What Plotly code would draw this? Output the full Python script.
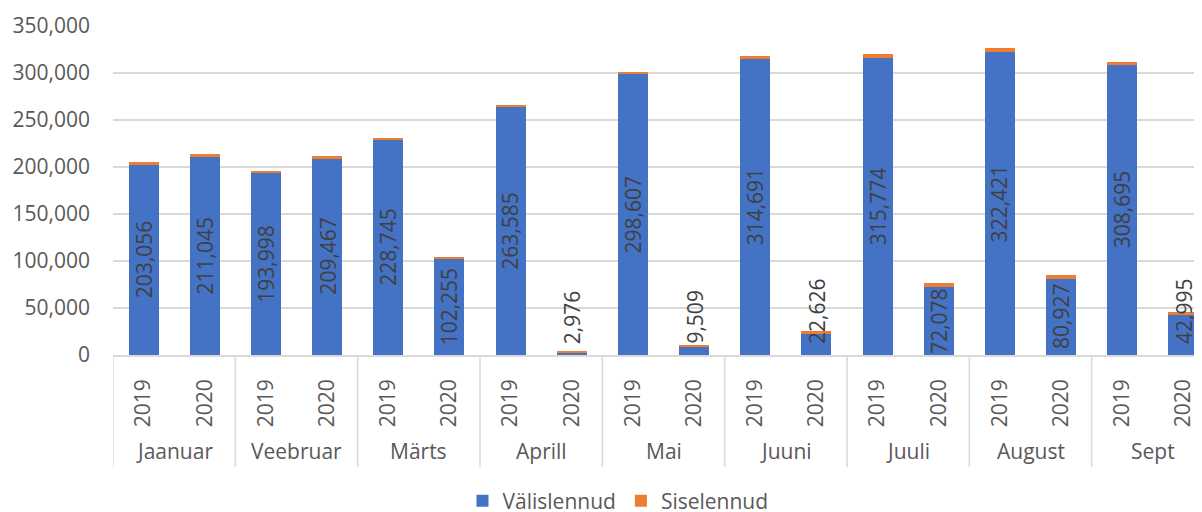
import plotly.graph_objects as go

months = ["Jaanuar", "Veebruar", "Märts", "Aprill", "Mai", "Juuni", "Juuli", "August", "Sept"]
years = ["2019", "2020"]
valislennud = [203056, 211045, 193998, 209467, 228745, 102255, 263585, 2976, 298607, 9509,
               314691, 22626, 315774, 72078, 322421, 80927, 308695, 42995]
siselennud = [2000, 2500, 2000, 2000, 2000, 1500, 2500, 300, 2500, 1000,
              3000, 3000, 4000, 4000, 4000, 4000, 2500, 2500]
y_ticks = [0, 50000, 100000, 150000, 200000, 250000, 300000, 350000]

FONT = "Open Sans"
GRAY = "#595959"
DARK = "#404040"
OFF = 8                      # page body margin
PAGE_W, PAGE_H = 1202, 512
W, H = PAGE_W - OFF, PAGE_H - OFF
PLOT_L, PLOT_T, PLOT_B = 113, 25.5, 355.5   # page coordinates of the plot area
ML = PLOT_L - OFF
MT = PLOT_T - OFF
MB = H - (PLOT_B - OFF)
plot_h = PLOT_B - PLOT_T

n = len(valislennud)
x = list(range(n))
year_labels = [years[i % 2] for i in range(n)]
slot_px = 1101 / n
x_max = -0.5 + (PAGE_W - PLOT_L) / slot_px

fig = go.Figure()
fig.add_trace(go.Bar(x=x, y=valislennud, name="Välislennud", marker_color="#4472C4",
                     width=0.49, marker_line_width=0))
fig.add_trace(go.Bar(x=x, y=siselennud, name="Siselennud", marker_color="#ED7D31",
                     width=0.49, marker_line_width=0))

annotations = []
for i, v in enumerate(valislennud):
    if v >= 50000:
        annotations.append(dict(x=i, y=v / 2, xref="x", yref="y", text=f"{v:,}",
                                textangle=-90, showarrow=False, yanchor="middle",
                                font=dict(family=FONT, size=21, color=DARK)))
    else:
        annotations.append(dict(x=i, y=0, xref="x", yref="y", text=f"{v:,}",
                                textangle=-90, showarrow=False, yanchor="bottom", yshift=9,
                                font=dict(family=FONT, size=21, color=DARK)))

month_y = (PLOT_B - 452) / plot_h
for k, m in enumerate(months):
    annotations.append(dict(x=2 * k + 0.5, y=month_y, xref="x", yref="paper", text=m,
                            showarrow=False, yanchor="middle", xanchor="center",
                            font=dict(family=FONT, size=21, color=GRAY)))

sep_y = (PLOT_B - 468) / plot_h
shapes = []
for k in range(len(months)):
    shapes.append(dict(type="line", xref="x", yref="paper", x0=2 * k - 0.5, x1=2 * k - 0.5,
                       y0=0, y1=sep_y, line=dict(color="#d9d9d9", width=1.5)))

legend_x = (618 - PLOT_L) / (PAGE_W - PLOT_L)
legend_y = (PLOT_B - 502) / plot_h

fig.update_layout(
    width=W, height=H,
    margin=dict(l=ML, r=0, t=MT, b=MB, autoexpand=False),
    barmode="stack",
    plot_bgcolor="white", paper_bgcolor="white",
    font=dict(family=FONT, size=21, color=GRAY),
    xaxis=dict(range=[-0.5, x_max], tickvals=x, ticktext=year_labels, tickangle=-90,
               showgrid=False, showline=True, linecolor="#d9d9d9", linewidth=1.5,
               ticks="", ticklabelstandoff=14, zeroline=False, automargin=False,
               tickfont=dict(family=FONT, size=21, color=GRAY)),
    yaxis=dict(range=[0, 350000], tickvals=y_ticks, tickformat=",", showgrid=True,
               gridcolor="#d9d9d9", gridwidth=1.5, zeroline=False, showline=False,
               ticks="", ticklabelstandoff=22, automargin=False,
               tickfont=dict(family=FONT, size=21, color=GRAY)),
    legend=dict(orientation="h", x=legend_x, y=legend_y, xanchor="center", yanchor="middle",
                font=dict(family=FONT, size=21, color=GRAY), traceorder="normal"),
    annotations=annotations,
    shapes=shapes,
    bargap=0,
)

fig.write_html("out.html")
